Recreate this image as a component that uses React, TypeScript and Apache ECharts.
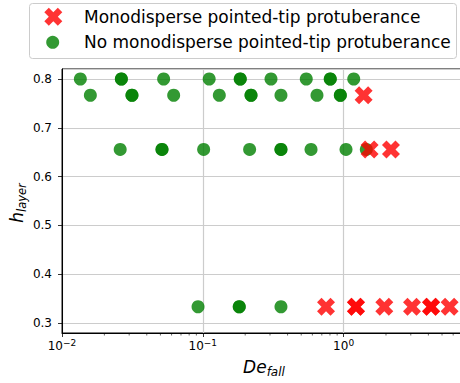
import React, { useEffect, useRef } from "react";
import * as echarts from "echarts";

// ---- data ----
const noTipDe = [
  0.0135, 0.0264, 0.0264, 0.0527, 0.111, 0.1845, 0.1845, 0.305, 0.543, 0.804, 0.804, 1.18,
  0.0159, 0.0314, 0.0314, 0.0621, 0.131, 0.22, 0.22, 0.359, 0.647, 0.948, 0.948,
  0.0259, 0.0513, 0.0513, 0.1014, 0.215, 0.359, 0.359, 0.587, 1.04, 1.45,
  0.0925, 0.1815, 0.1815, 0.359,
];
const noTipH = [
  0.8, 0.8, 0.8, 0.8, 0.8, 0.8, 0.8, 0.8, 0.8, 0.8, 0.8, 0.8,
  0.7667, 0.7667, 0.7667, 0.7667, 0.7667, 0.7667, 0.7667, 0.7667, 0.7667, 0.7667, 0.7667,
  0.6556, 0.6556, 0.6556, 0.6556, 0.6556, 0.6556, 0.6556, 0.6556, 0.6556, 0.6556,
  0.3333, 0.3333, 0.3333, 0.3333,
];
const tipDe = [1.387, 1.53, 2.17, 0.75, 1.224, 1.224, 1.945, 3.06, 4.18, 4.18, 5.66];
const tipH = [0.7667, 0.6556, 0.6556, 0.3333, 0.3333, 0.3333, 0.3333, 0.3333, 0.3333, 0.3333, 0.3333];

const seriesNames = [
  "Monodisperse pointed-tip protuberance",
  "No monodisperse pointed-tip protuberance",
];
const minorTicks = [
  0.02, 0.03, 0.04, 0.05, 0.06, 0.07, 0.08, 0.09,
  0.2, 0.3, 0.4, 0.5, 0.6, 0.7, 0.8, 0.9,
  2, 3, 4, 5, 6, 7,
];
const X_MIN = 0.01;
const X_MAX = 7.9;
const Y_MIN = 0.2795;
const Y_MAX = 0.8205;

const FONT = "DejaVu Sans";
const X_PATH = "M2.5,0L5,2.5L7.5,0L10,2.5L7.5,5L10,7.5L7.5,10L5,7.5L2.5,10L0,7.5L2.5,5L0,2.5Z";
const X_PTS = [
  [2.5, 0], [5, 2.5], [7.5, 0], [10, 2.5], [7.5, 5], [10, 7.5],
  [7.5, 10], [5, 7.5], [2.5, 10], [0, 7.5], [2.5, 5], [0, 2.5],
];

export default function App() {
  const ref = useRef<HTMLDivElement>(null);
  useEffect(() => {
    if (!ref.current) return;
    const chart = echarts.init(ref.current, undefined, { renderer: "svg" });
    const legendX = X_PTS.map(([a, b]) => [53.3 - 9 + a * 1.8, 16.7 - 9 + b * 1.8]);
    chart.setOption({
      animation: false,
      backgroundColor: "#ffffff",
      grid: {
        left: 62,
        top: 69,
        right: 0,
        bottom: 50,
        show: true,
        borderColor: "#000",
        borderWidth: 1,
        backgroundColor: "transparent",
      },
      xAxis: {
        type: "log",
        logBase: 10,
        min: X_MIN,
        max: X_MAX,
        axisLine: { show: true, lineStyle: { color: "#000", width: 1 } },
        axisTick: { show: true, inside: false, length: 4, lineStyle: { color: "#000", width: 0.8 } },
        splitLine: { show: true, lineStyle: { color: "#cccccc", width: 1.2 } },
        axisLabel: {
          margin: 5,
          showMaxLabel: false,
          formatter: (v: number) => {
            const e = Math.round(Math.log10(v));
            return "{b|10}{s|" + (e < 0 ? "\u2212" + -e : String(e)) + "}";
          },
          rich: {
            b: { fontFamily: FONT, fontSize: 12, color: "#000", lineHeight: 14, verticalAlign: "bottom" },
            s: { fontFamily: FONT, fontSize: 9, color: "#000", lineHeight: 10, padding: [0, 0, 6, 0], verticalAlign: "top" },
          },
        },
      },
      yAxis: {
        type: "value",
        min: Y_MIN,
        max: Y_MAX,
        splitNumber: 5,
        axisLine: { show: true, lineStyle: { color: "#000", width: 1 } },
        axisTick: { show: true, inside: false, length: 4, lineStyle: { color: "#000", width: 0.8 } },
        splitLine: { show: true, lineStyle: { color: "#cccccc", width: 1.2 } },
        axisLabel: {
          margin: 10,
          showMinLabel: false,
          showMaxLabel: false,
          fontFamily: FONT,
          fontSize: 12,
          color: "#000",
          formatter: (v: number) => v.toFixed(1),
        },
      },
      series: [
        {
          type: "custom",
          silent: true,
          clip: false,
          data: minorTicks.map((v) => [v, Y_MIN]),
          renderItem: (_p: any, api: any) => {
            const pt = api.coord([api.value(0), Y_MIN]);
            return {
              type: "line",
              shape: { x1: pt[0], y1: pt[1], x2: pt[0], y2: pt[1] + 2.5 },
              style: { stroke: "#000", lineWidth: 0.6 },
            };
          },
        },
        {
          name: seriesNames[1],
          type: "scatter",
          symbol: "circle",
          symbolSize: 13,
          itemStyle: { color: "#008000", opacity: 0.8 },
          data: noTipDe.map((x, i) => [x, noTipH[i]]),
        },
        {
          name: seriesNames[0],
          type: "scatter",
          symbol: "path://" + X_PATH,
          symbolSize: 18,
          itemStyle: { color: "#ff0000", opacity: 0.8 },
          data: tipDe.map((x, i) => [x, tipH[i]]),
        },
      ],
      graphic: [
        {
          type: "rect",
          shape: { x: 29.5, y: 3.5, width: 427, height: 55, r: 3 },
          style: { fill: "rgba(255,255,255,0.8)", stroke: "#cccccc", lineWidth: 1 },
          z: 100,
        },
        {
          type: "polygon",
          shape: { points: legendX },
          style: { fill: "#ff0000", opacity: 0.8 },
          z: 101,
        },
        {
          type: "circle",
          shape: { cx: 52.7, cy: 42.3, r: 6.5 },
          style: { fill: "#008000", opacity: 0.8 },
          z: 101,
        },
        {
          type: "text",
          x: 84,
          y: 17,
          z: 101,
          style: {
            text: seriesNames[0],
            fontSize: 17,
            fontFamily: FONT,
            fill: "#000",
            verticalAlign: "middle",
            textVerticalAlign: "middle",
          },
        },
        {
          type: "text",
          x: 84,
          y: 42,
          z: 101,
          style: {
            text: seriesNames[1],
            fontSize: 17,
            fontFamily: FONT,
            fill: "#000",
            verticalAlign: "middle",
            textVerticalAlign: "middle",
          },
        },
        {
          type: "text",
          x: 264,
          y: 368,
          style: {
            text: "{a|De}{b|fall}",
            align: "center",
            textAlign: "center",
            verticalAlign: "middle",
            textVerticalAlign: "middle",
            rich: {
              a: { fontFamily: FONT, fontSize: 17, fontStyle: "italic", fill: "#000", lineHeight: 20, verticalAlign: "top" },
              b: { fontFamily: FONT, fontSize: 12, fontStyle: "italic", fill: "#000", lineHeight: 12, padding: [8, 0, 0, 0], verticalAlign: "top" },
            },
          },
        },
        {
          type: "text",
          x: 18,
          y: 203,
          rotation: Math.PI / 2,
          style: {
            text: "{a|h}{b|layer}",
            align: "center",
            textAlign: "center",
            verticalAlign: "middle",
            textVerticalAlign: "middle",
            rich: {
              a: { fontFamily: FONT, fontSize: 17, fontStyle: "italic", fill: "#000", lineHeight: 20, verticalAlign: "top" },
              b: { fontFamily: FONT, fontSize: 11.5, fontStyle: "italic", fill: "#000", lineHeight: 12, padding: [8, 0, 0, 0], verticalAlign: "top" },
            },
          },
        },
      ],
    });
    return () => chart.dispose();
  }, []);
  return (
    <div
      ref={ref}
      style={{ position: "fixed", left: 0, top: 0, width: 470, height: 383, background: "#fff" }}
    />
  );
}
